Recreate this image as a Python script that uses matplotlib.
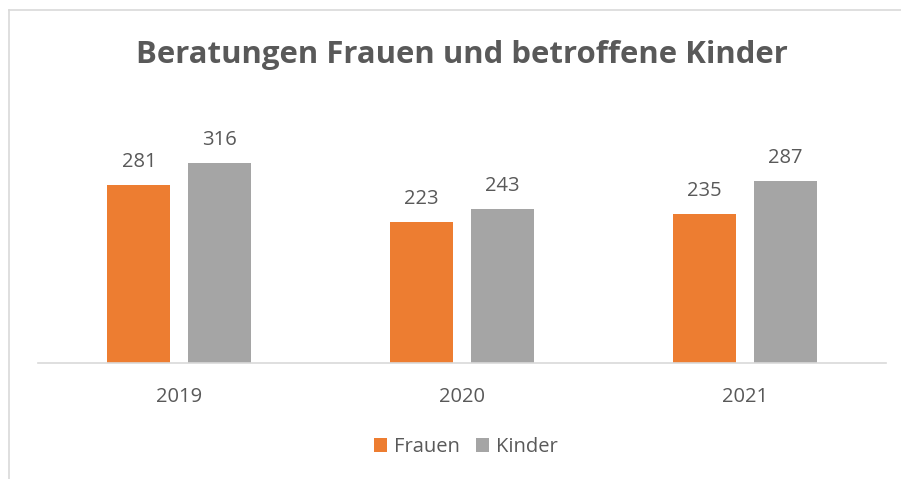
import matplotlib
matplotlib.use("Agg")
import matplotlib.pyplot as plt
from matplotlib.lines import Line2D
from matplotlib.patches import Patch
import numpy as np

plt.rcParams['font.family'] = ['Open Sans', 'DejaVu Sans']

categories = ["2019", "2020", "2021"]
frauen = [281, 223, 235]
kinder = [316, 243, 287]
series_names = ["Frauen", "Kinder"]
title = "Beratungen Frauen und betroffene Kinder"

TEXT = "#595959"
ORANGE = "#ED7D31"
GRAY = "#A5A5A5"
W, H = 901, 479

fig = plt.figure(figsize=(W / 100, H / 100), dpi=100)
fig.patch.set_facecolor("white")

ax = fig.add_axes([38 / W, 1 - 363 / H, (886 - 38) / W, (363 - 141) / H])
x = np.arange(len(categories))
bw = 0.2226
off = 0.143
b1 = ax.bar(x - off, frauen, bw, color=ORANGE, label=series_names[0], zorder=2)
b2 = ax.bar(x + off, kinder, bw, color=GRAY, label=series_names[1], zorder=2)
for bars in (b1, b2):
    ax.bar_label(bars, padding=9, fontsize=14.5, color=TEXT)
ax.set_xlim(-0.5, 2.5)
ax.set_ylim(0, 350)
ax.set_yticks([])
ax.set_xticks(x)
ax.set_xticklabels(categories, fontsize=14.5, color=TEXT)
ax.tick_params(axis='x', length=0, pad=17)
for s in ("top", "right", "left"):
    ax.spines[s].set_visible(False)
ax.spines["bottom"].set_color("#D9D9D9")
ax.spines["bottom"].set_linewidth(1.2)
ax.set_facecolor("none")

fig.text(462 / W, 1 - 55 / H, title, ha="center", va="center",
         fontsize=22.4, fontweight="bold", color=TEXT)

handles = [Patch(facecolor=ORANGE), Patch(facecolor=GRAY)]
fig.legend(handles, series_names, loc="center", bbox_to_anchor=(466 / W, 1 - 447 / H),
           ncol=2, frameon=False, fontsize=14.5, labelcolor=TEXT,
           handlelength=0.65, handleheight=0.65, handletextpad=0.35, columnspacing=0.8)

# chart border (left and top visible)
fig.add_artist(Line2D([8.5 / W, 8.5 / W], [0, 1 - 10 / H], color="#D9D9D9", lw=1.2,
                      transform=fig.transFigure))
fig.add_artist(Line2D([8.5 / W, 1], [1 - 10 / H, 1 - 10 / H], color="#D9D9D9", lw=1.2,
                      transform=fig.transFigure))

fig.savefig("out.png", dpi=100, facecolor="white")
